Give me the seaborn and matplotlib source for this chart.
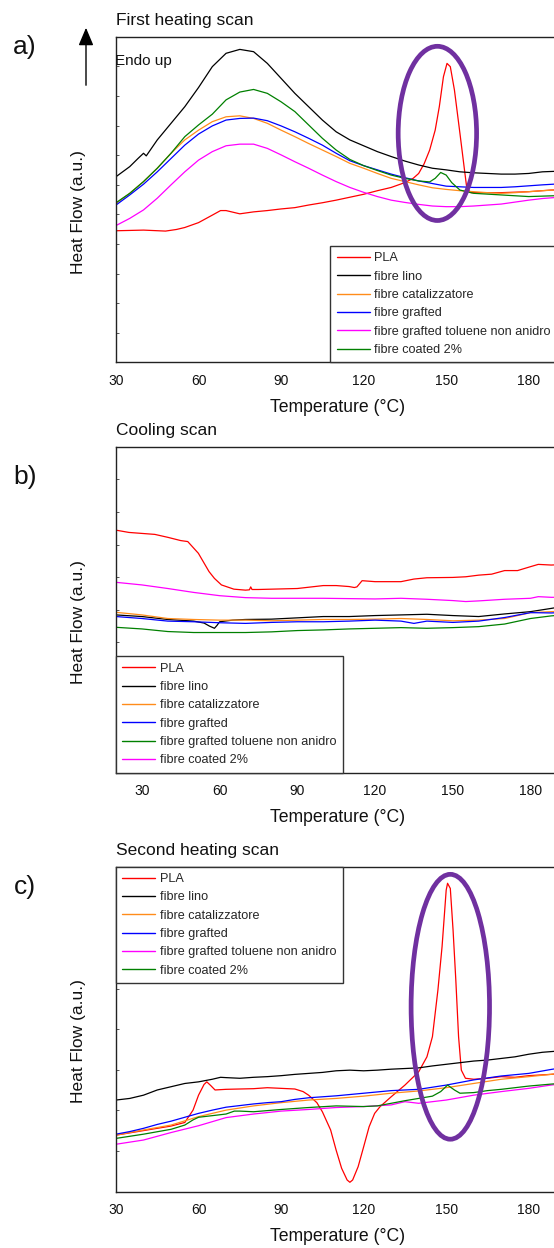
import numpy as np
import pandas as pd
import matplotlib
matplotlib.use("Agg")
import matplotlib.pyplot as plt
import seaborn as sns
from matplotlib.patches import Ellipse, FancyArrowPatch
from matplotlib.ticker import MultipleLocator

sns.set_style("white")
plt.rcParams['font.family'] = ['Liberation Sans', 'DejaVu Sans']

NAMES = ["PLA", "fibre lino", "fibre catalizzatore", "fibre grafted",
         "fibre grafted toluene non anidro", "fibre coated 2%"]

# ---------------- Panel a: first heating ----------------
a_T_pla = [30, 40, 48, 52, 55, 60, 65, 68, 70, 73, 75, 80, 85, 90, 95, 100, 105, 110, 115, 120,
           125, 130, 135, 138, 140, 142, 144, 146, 147.5, 149, 150.3, 151.5, 153, 155, 156.5,
           157.5, 159, 165, 170, 180, 188, 191]
a_pla = [40.4, 40.6, 40.3, 40.8, 41.4, 42.9, 45.2, 46.6, 46.6, 46.0, 45.6, 46.2, 46.6, 47.1, 47.5,
         48.3, 49.0, 49.8, 50.7, 51.6, 52.7, 53.7, 55.2, 56.5, 58.0, 61.0, 65.2, 71.3, 78.5, 87.7,
         91.8, 90.8, 83.6, 70.3, 60.1, 53.4, 52.1, 52.1, 52.1, 52.4, 52.9, 53.0]
a_T_lino = [30, 35, 38, 40, 41, 45, 50, 55, 60, 65, 70, 75, 80, 85, 90, 95, 100, 105, 110, 115,
            120, 125, 130, 135, 140, 145, 150, 155, 160, 165, 170, 175, 180, 185, 191]
a_lino = [57.0, 60.1, 62.6, 64.2, 63.4, 68.3, 73.4, 78.5, 84.4, 90.8, 94.9, 96.1, 95.4, 91.8, 87.2,
          82.6, 78.5, 74.4, 70.8, 68.3, 66.5, 64.7, 63.2, 61.8, 60.6, 59.6, 59.1, 58.5, 58.2, 58.0,
          57.8, 57.8, 58.0, 58.5, 58.7]
a_T = [30, 35, 40, 45, 50, 55, 60, 65, 70, 75, 80, 85, 90, 95, 100, 105, 110, 115, 120, 125,
       130, 135, 140, 145, 150, 155, 160, 165, 170, 175, 180, 185, 191]
a_cat = [48.8, 51.9, 55.5, 59.6, 64.2, 68.3, 71.3, 73.9, 75.4, 75.7, 74.9, 73.4, 71.3, 69.3, 67.2,
         65.2, 63.2, 61.1, 59.6, 58.0, 56.5, 55.5, 54.5, 53.6, 53.1, 52.7, 52.4, 52.1, 51.9, 52.1,
         52.4, 52.7, 53.0]
a_graft = [48.3, 51.4, 54.7, 58.5, 62.6, 66.7, 70.1, 72.6, 74.4, 74.9, 75.0, 74.2, 72.6, 70.8, 68.8,
           66.7, 64.2, 61.9, 60.4, 59.1, 57.8, 56.7, 55.7, 54.9, 54.1, 53.9, 53.7, 53.7, 53.7, 53.9,
           54.2, 54.5, 54.8]
a_tol = [42.0, 44.2, 46.8, 50.4, 54.5, 58.5, 62.1, 64.7, 66.5, 67.0, 67.0, 65.7, 63.7, 61.6, 59.6,
         57.5, 55.5, 53.7, 52.2, 50.9, 49.8, 49.1, 48.5, 48.0, 47.8, 47.8, 48.0, 48.3, 48.6, 49.2,
         49.8, 50.3, 50.7]
a_T_coat = [30, 35, 40, 45, 50, 55, 60, 65, 70, 75, 80, 85, 90, 95, 100, 105, 110, 115, 120, 125,
            130, 135, 140, 144, 146, 148, 150, 152, 155, 160, 170, 180, 191]
a_coat = [49.0, 51.9, 55.5, 59.6, 64.2, 69.3, 72.9, 76.2, 80.6, 83.0, 83.8, 82.6, 80.0, 77.0, 72.9,
          68.8, 65.2, 62.3, 60.4, 58.9, 57.5, 56.5, 55.7, 55.4, 56.5, 58.3, 57.5, 55.2, 52.9, 51.9,
          51.4, 50.9, 51.2]

# ---------------- Panel b: cooling ----------------
b_T_pla = [20, 25, 30, 35, 40, 45, 47.7, 51.8, 55.9, 58, 60.7, 65.5, 70, 71.5, 72, 72.5, 75, 80, 90,
           100, 105, 110, 112, 113, 115, 120, 130, 135, 140, 150, 155, 160, 165, 170, 175, 180,
           183, 188, 191]
b_pla = [74.4, 73.7, 73.4, 73.1, 72.2, 71.2, 70.9, 67.3, 61.7, 59.6, 57.6, 56.3, 56.0, 56.1, 57.0,
         56.2, 56.2, 56.3, 56.5, 57.4, 57.4, 57.1, 56.8, 57.0, 58.9, 58.6, 58.6, 59.4, 59.8, 59.9,
         60.1, 60.6, 60.9, 62.0, 62.0, 63.2, 63.9, 63.7, 63.8]
b_T_lino = [20, 30, 40, 50, 54, 56, 58, 59, 60, 65, 70, 80, 90, 100, 110, 120, 130, 140, 150, 160,
            170, 180, 188, 191]
b_lino = [48.4, 47.9, 47.0, 46.5, 45.9, 45.0, 44.3, 45.2, 46.3, 46.8, 47.0, 47.1, 47.5, 47.9, 47.9,
          48.2, 48.4, 48.6, 48.2, 47.9, 48.7, 49.4, 50.4, 50.8]
b_T = [20, 30, 40, 50, 60, 70, 80, 90, 100, 110, 120, 130, 140, 150, 160, 170, 180, 188, 191]
b_cat = [49.2, 48.4, 47.3, 47.0, 46.8, 46.8, 46.6, 46.8, 47.0, 47.0, 47.1, 47.3, 47.0, 46.6, 46.8,
         47.3, 49.1, 49.4, 49.5]
b_T_graft = [20, 30, 40, 50, 60, 70, 80, 90, 100, 110, 120, 130, 135, 140, 150, 160, 170, 180, 188, 191]
b_graft = [47.9, 47.3, 46.5, 46.3, 46.0, 45.8, 46.1, 46.3, 46.3, 46.5, 46.8, 46.5, 45.8, 46.5, 46.1,
           46.5, 47.6, 49.1, 49.0, 49.1]
b_tol = [44.6, 44.1, 43.3, 43.0, 43.0, 43.0, 43.2, 43.6, 43.8, 44.1, 44.3, 44.5, 44.3, 44.5, 44.8,
         45.6, 47.3, 48.1, 48.3]
b_T_coat = [20, 30, 40, 50, 60, 70, 80, 90, 100, 110, 120, 130, 140, 150, 155, 160, 170, 180, 183, 188, 191]
b_coat = [58.4, 57.6, 56.5, 55.3, 54.3, 53.7, 53.5, 53.5, 53.5, 53.4, 53.3, 53.5, 53.2, 52.8, 52.5,
          52.7, 53.2, 53.5, 54.0, 53.8, 53.8]

# ---------------- Panel c: second heating ----------------
c_T_pla = [30, 40, 50, 55, 58, 60, 62, 63, 64.5, 66, 70, 80, 85, 90, 95, 98, 100, 103, 105, 108, 110,
           112, 114, 115, 116, 118, 120, 122, 124, 126, 128, 130, 135, 140, 143, 145, 147, 148.5,
           150, 150.5, 151.5, 152.5, 153.5, 154.5, 155.5, 157, 160, 165, 170, 175, 180, 188, 191]
c_pla = [17.4, 18.8, 20.2, 21.3, 25.1, 29.7, 33.0, 33.8, 32.6, 31.3, 31.5, 31.7, 32.0, 31.8, 31.6,
         30.8, 29.7, 27.4, 24.6, 19.0, 12.8, 7.2, 3.6, 2.9, 3.6, 7.7, 13.8, 20.0, 24.1, 26.2, 27.7,
         29.2, 32.8, 36.9, 41.5, 47.7, 62.1, 75.4, 92.8, 94.9, 93.3, 80.5, 65.1, 47.7, 37.4, 34.9,
         34.6, 34.9, 35.4, 35.2, 35.7, 36.1, 36.3]
c_T_lino = [30, 35, 40, 45, 50, 55, 60, 65, 68, 70, 75, 80, 85, 90, 95, 100, 105, 110, 115, 120,
            125, 130, 135, 140, 145, 150, 155, 160, 165, 170, 175, 180, 185, 188, 191]
c_lino = [28.2, 28.7, 29.7, 31.3, 32.3, 33.3, 33.8, 34.6, 35.2, 35.1, 34.9, 35.2, 35.4, 35.7, 36.1,
          36.4, 36.7, 37.2, 37.4, 37.2, 37.4, 37.7, 37.9, 38.1, 38.7, 39.2, 39.7, 40.2, 40.5, 41.0,
          41.5, 42.3, 42.9, 43.1, 43.3]
c_T_graft = [30, 35, 40, 45, 50, 55, 60, 65, 70, 75, 80, 85, 90, 95, 100, 110, 120, 130, 140, 150,
             160, 170, 180, 188, 191]
c_graft = [17.7, 18.5, 19.5, 20.7, 21.7, 22.9, 24.1, 25.1, 26.0, 26.5, 27.0, 27.4, 27.7, 28.4, 28.9,
           29.5, 30.3, 31.1, 31.5, 32.8, 34.4, 35.6, 36.4, 37.6, 38.0]
c_T_cat = [30, 40, 50, 60, 70, 80, 90, 100, 110, 120, 130, 140, 150, 160, 170, 180, 188, 191]
c_cat = [17.4, 19.0, 20.5, 23.1, 25.1, 26.4, 27.4, 28.2, 28.7, 29.4, 30.3, 31.0, 32.0, 33.3, 34.6,
         35.4, 36.1, 36.4]
c_T_coat = [30, 40, 50, 55, 58, 60, 65, 70, 73, 75, 80, 90, 100, 110, 120, 125, 130, 135, 140, 145,
            148, 150.5, 153, 155, 160, 165, 170, 180, 188, 191]
c_coat = [16.4, 17.7, 19.2, 20.5, 22.1, 22.9, 23.4, 23.9, 24.8, 24.8, 24.6, 25.3, 25.9, 26.4, 26.2,
          26.4, 27.2, 28.0, 28.7, 29.4, 30.8, 32.8, 31.3, 30.3, 30.5, 31.1, 31.5, 32.5, 33.1, 33.3]
c_T_tol = [30, 40, 50, 60, 70, 80, 90, 100, 110, 120, 130, 135, 140, 150, 160, 170, 180, 188, 191]
c_tol = [14.6, 15.9, 18.2, 20.3, 22.8, 23.9, 24.8, 25.3, 25.9, 26.2, 26.7, 27.7, 27.2, 28.2, 29.7,
         30.8, 31.8, 32.8, 33.1]

TITLES = ["First heating scan", "Cooling scan", "Second heating scan"]
PANEL_LABELS = ["a)", "b)", "c)"]
RED, BLACK, ORANGE, BLUE, MAGENTA, GREEN = "#FF0000", "#000000", "#FF8C1A", "#0000FF", "#FF00FF", "#008000"
pal_ac = dict(zip(NAMES, [RED, BLACK, ORANGE, BLUE, MAGENTA, GREEN]))
pal_b = dict(zip(NAMES, [RED, BLACK, ORANGE, BLUE, GREEN, MAGENTA]))

panels = [
    dict(series=[(a_T_pla, a_pla), (a_T_lino, a_lino), (a_T, a_cat), (a_T, a_graft), (a_T, a_tol), (a_T_coat, a_coat)],
         pal=pal_ac, xlim=(30, 191), nyt=11, ax_top=36.7, ax_bot=362.3,
         leg=dict(loc="lower left", bbox_to_anchor=(0.484, 0.0)),
         ellipse=(146.8, 70.3, 28.5, 53.5)),
    dict(series=[(b_T_pla, b_pla), (b_T_lino, b_lino), (b_T, b_cat), (b_T_graft, b_graft), (b_T, b_tol), (b_T_coat, b_coat)],
         pal=pal_b, xlim=(20, 191), nyt=10, ax_top=446.7, ax_bot=772.7,
         leg=dict(loc="lower left", bbox_to_anchor=(0.0, 0.0)), ellipse=None),
    dict(series=[(c_T_pla, c_pla), (c_T_lino, c_lino), (c_T_cat, c_cat), (c_T_graft, c_graft), (c_T_tol, c_tol), (c_T_coat, c_coat)],
         pal=pal_ac, xlim=(30, 191), nyt=8, ax_top=866.7, ax_bot=1191.7,
         leg=dict(loc="upper left", bbox_to_anchor=(0.0, 1.0)),
         ellipse=(151.5, 56.9, 28.5, 81.5)),
]

W, H = 554, 1248
fig = plt.figure(figsize=(W / 100, H / 100), dpi=100)
ax_left, ax_width = 116, 443
SPINE = "#222222"

for i, p in enumerate(panels):
    ax = fig.add_axes([ax_left / W, 1 - p["ax_bot"] / H, ax_width / W, (p["ax_bot"] - p["ax_top"]) / H])
    frames = []
    for name, (T, v) in zip(NAMES, p["series"]):
        frames.append(pd.DataFrame({"T": T, "HF": v, "sample": name}))
    df = pd.concat(frames, ignore_index=True)
    sns.lineplot(data=df, x="T", y="HF", hue="sample", hue_order=NAMES, palette=p["pal"],
                 estimator=None, sort=False, lw=0.9, ax=ax)
    ax.set_xlim(*p["xlim"])
    ax.set_ylim(0, 100)
    ax.xaxis.set_major_locator(MultipleLocator(30))
    ax.xaxis.set_minor_locator(MultipleLocator(15))
    ax.set_yticks(np.linspace(0, 100, p["nyt"] + 1))
    ax.set_yticklabels([])
    ax.tick_params(axis="x", which="major", direction="out", length=3.6, width=0.8,
                   labelsize=10, pad=4.5, colors=SPINE, labelcolor="#111111")
    ax.tick_params(axis="x", which="minor", direction="out", length=2.4, width=0.8, colors=SPINE)
    ax.tick_params(axis="y", which="major", direction="in", length=2.2, width=0.7, colors="#555555", left=True)
    for s in ax.spines.values():
        s.set_color(SPINE)
        s.set_linewidth(1.0)
    ax.set_xlabel("Temperature (°C)", fontsize=12.7, color="#111111")
    ax.set_ylabel("Heat Flow (a.u.)", fontsize=12.5, color="#111111")
    h = p["ax_bot"] - p["ax_top"]
    ax.xaxis.set_label_coords(0.5, -(407 - 362.3) / h)
    ax.xaxis.label.set_va("center")
    ax.yaxis.set_label_coords((78.5 - ax_left) / ax_width, 0.462)
    ax.yaxis.label.set_va("center")
    ax.text(0.0, 1 + 16.7 / h, TITLES[i], transform=ax.transAxes, ha="left", va="center",
            fontsize=12.5, color="#111111")

    old = ax.get_legend()
    handles = old.legend_handles
    labels = [t.get_text() for t in old.texts]
    old.remove()
    for hd in handles:
        hd.set_linewidth(1.0)
    leg = ax.legend(handles, labels, fontsize=9.1, frameon=True, fancybox=False, framealpha=1,
                    edgecolor="#333333", handlelength=2.6, handletextpad=0.36, labelspacing=0.5,
                    borderpad=0.5, borderaxespad=0.0, **p["leg"])
    leg.get_frame().set_linewidth(1.0)

    if p["ellipse"] is not None:
        cx, cy, ew, eh = p["ellipse"]
        ax.add_patch(Ellipse((cx, cy), ew, eh, fill=False, ec="#7030A0", lw=3.4, zorder=5))

    fig.text(25 / W, 1 - [47, 476.7, 886.7][i] / H, PANEL_LABELS[i], fontsize=19,
             ha="center", va="center", color="#111111")

# Endo up arrow and label (panel a)
arrow = FancyArrowPatch((86 / W, 1 - 88 / H), (86 / W, 1 - 25 / H), transform=fig.transFigure,
                        arrowstyle="-|>,head_length=0.9,head_width=0.38", mutation_scale=12,
                        lw=1.0, color="black")
fig.patches.append(arrow)
fig.text(115 / W, 1 - 61 / H, "Endo up", fontsize=11, ha="left", va="center", color="#111111")

fig.savefig("out.png", dpi=100)
